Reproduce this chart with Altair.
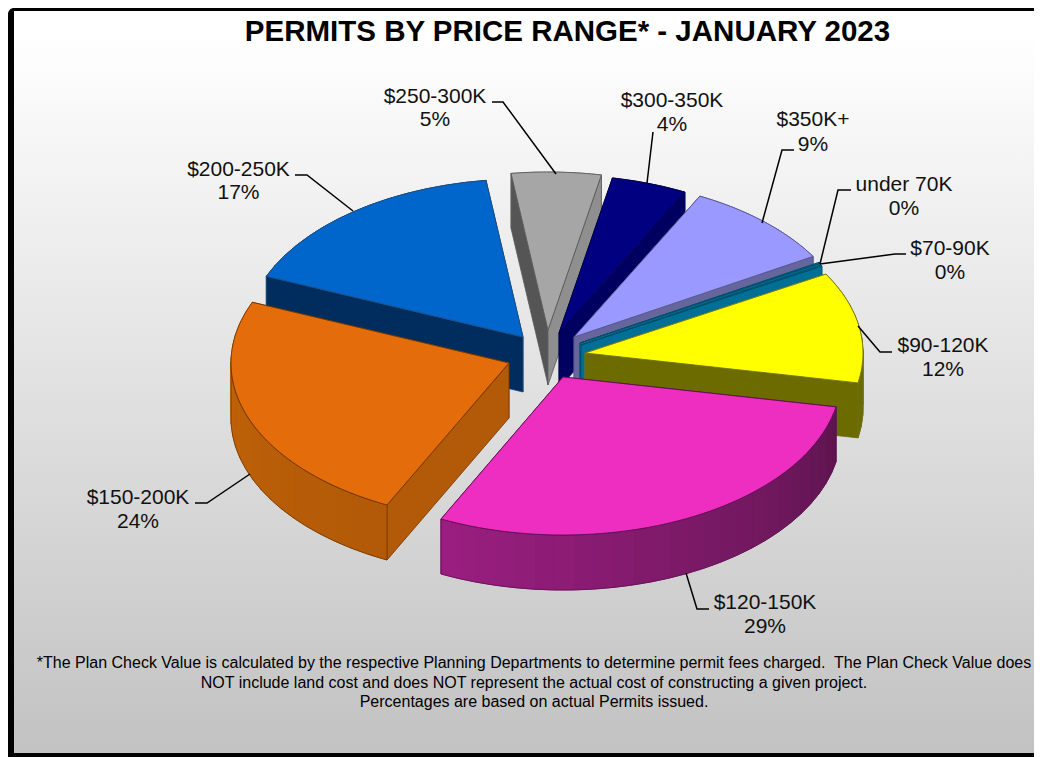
import math
import altair as alt
import pandas as pd

# ---- chart values -------------------------------------------------------
names = ["$120-150K", "$150-200K", "$200-250K", "$250-300K", "$300-350K",
         "$350K+", "under 70K", "$70-90K", "$90-120K"]
shown = ["29%", "24%", "17%", "5%", "4%", "9%", "0%", "0%", "12%"]
values = [29.2, 24.05, 16.6, 5.2, 4.4, 9.0, 0.1, 0.1, 11.35]

title_text = ["PERMITS BY PRICE RANGE* - JANUARY 2023"]
notes = [
    "*The Plan Check Value is calculated by the respective Planning Departments to determine permit fees charged.\u00a0 The Plan Check Value does",
    "NOT include land cost and does NOT represent the actual cost of constructing a given project.",
    "Percentages are based on actual Permits issued.",
]

# ---- layout and style ---------------------------------------------------
W, H = 1026, 749
OFF = 8
RX, RY, DEPTH = 278, 158, 55
START = 10.9
apex_x = [563, 509, 523, 548, 559, 574, 580, 581, 585]
apex_y = [377, 363, 337, 330, 333, 337, 343, 345, 353]
tops = ["#ee2ec0", "#e56c0a", "#0066cc", "#a6a6a6", "#000080", "#9999ff", "#006f96", "#006f96", "#ffff00"]
edges = ["#5e1050", "#6e3500", "#1c4f85", "#5a5a5a", "#000045", "#56568f", "#004f6a", "#004f6a", "#707018"]
wall_end = ["#5e154f", "#b25a08", "#002d5e", "#8f8f8f", "#000060", "#66669c", "#006f96", "#006f96", "#6b6b00"]
wall_start = ["#9a1e80", "#c46408", "#002d5e", "#8f8f8f", "#000060", "#66669c", "#006f96", "#006f96", "#6b6b00"]
face_start = ["#5e154f", "#b25a08", "#002d5e", "#555555", "#000060", "#66669c", "#006f96", "#006f96", "#6b6b00"]
face_end = ["#9a1e80", "#b25a08", "#002d5e", "#8f8f8f", "#000060", "#66669c", "#006f96", "#006f96", "#6b6b00"]
end_line = ["#5e1050", "#6e3500", "#002d5e", "#5a5a5a", "#000060", "#56568f", "#004f6a", "#004f6a", "#707018"]
draw_order = [3, 4, 5, 6, 7, 8, 2, 1, 0]

label_x = [765, 138, 238.5, 435, 672, 813, 904, 950, 943]
label_y = [609, 504, 176, 103, 107, 126, 191, 255, 352]
pct_y = [633, 528, 199, 126, 131, 151, 215, 279, 376]

leader_x = [[709, 697, 686], [195, 207, 250], [295, 307, 353], [492, 503, 556], [653, 647],
            [794, 782, 762], [851, 838, 820], [906, 895, 820], [892, 880, 858]]
leader_y = [[609, 609, 573], [503, 503, 474], [175, 175, 211], [102, 102, 174], [132, 183],
            [150, 150, 223], [190, 190, 264], [254, 254, 264], [352, 352, 326]]


def mix(a, b, f):
    pa = [int(a[i:i + 2], 16) for i in (1, 3, 5)]
    pb = [int(b[i:i + 2], 16) for i in (1, 3, 5)]
    return "#%02x%02x%02x" % tuple(round(p + (q - p) * f) for p, q in zip(pa, pb))


def rim(cx, cy, t):
    r = math.radians(t)
    return [cx + RX * math.cos(r), cy + RY * math.sin(r)]


def down(p):
    return [p[0], p[1] + DEPTH]


def poly(points, fill, stroke, sw):
    ring = [list(p) for p in points] + [list(points[0])]
    return {"type": "Feature",
            "geometry": {"type": "Polygon", "coordinates": [ring]},
            "properties": {"fill": fill, "stroke": stroke, "sw": sw}}


spans = []
cursor = START
for v in values:
    spans.append((cursor, cursor + v * 3.6))
    cursor += v * 3.6

features = []
for i in draw_order:
    t0, t1 = spans[i]
    cx, cy = apex_x[i], apex_y[i]
    n = max(1, int((t1 - t0) / 4))
    ts = [t0 + (t1 - t0) * k / n for k in range(n + 1)]
    nf = max(1, int((t1 - t0) / 1))
    fine = [t0 + (t1 - t0) * k / nf for k in range(nf + 1)]
    back, front = [], []
    for k in range(n):
        a, b = ts[k], ts[k + 1]
        col = mix(wall_end[i], wall_start[i], k / max(1, n - 1))
        pa, pb = rim(cx, cy, a), rim(cx, cy, b)
        f = poly([pa, pb, down(pb), down(pa)], col, col, 1)
        (front if math.sin(math.radians((a + b) / 2)) > 0 else back).append(f)
    features += back
    p0, p1 = rim(cx, cy, t0), rim(cx, cy, t1)
    c = [cx, cy]
    face0 = poly([c, p0, down(p0), down(c)], face_start[i], edges[i], 0.8)
    face1 = poly([c, p1, down(p1), down(c)], face_end[i], end_line[i], 0.8)
    features += [face0, face1] if p0[1] < p1[1] else [face1, face0]
    features += front
    vis = [t for t in fine if math.sin(math.radians(t)) > -0.02]
    if len(vis) > 1 and front:
        up = [rim(cx, cy, t) for t in vis]
        features.append(poly(up + [down(p) for p in reversed(up)], "transparent", edges[i], 0.8))
    features.append(poly([c] + [rim(cx, cy, t) for t in fine], tops[i], edges[i], 0.9))

# ---- chart --------------------------------------------------------------
xs = alt.Scale(domain=[OFF, OFF + W], range=[0, W])
ys = alt.Scale(domain=[OFF, OFF + H], range=[0, H])
one = pd.DataFrame({"a": [0]})

frame = alt.Chart(one).mark_rect(fill="black", cornerRadiusTopLeft=6).encode(
    x=alt.value(0), x2=alt.value(W), y=alt.value(0), y2=alt.value(H))

panel = alt.Chart(one).mark_rect(
    fill=alt.LinearGradient(
        gradient="linear", x1=0, x2=0, y1=0, y2=1,
        stops=[alt.GradientStop(color="#ffffff", offset=0.03),
               alt.GradientStop(color="#c2c2c2", offset=1)])
).encode(x=alt.value(6), x2=alt.value(W), y=alt.value(3), y2=alt.value(H - 4))

pie = alt.Chart(alt.Data(values=features)).mark_geoshape().encode(
    fill=alt.Fill("properties.fill:N", scale=None),
    stroke=alt.Stroke("properties.stroke:N", scale=None),
    strokeWidth=alt.StrokeWidth("properties.sw:Q", scale=None),
).project(type="identity", scale=1, translate=[-OFF, -OFF])

leader_rows = []
for i, (lx, ly) in enumerate(zip(leader_x, leader_y)):
    for k, (px, py) in enumerate(zip(lx, ly)):
        leader_rows.append({"name": names[i], "k": k, "x": px, "y": py})
leaders = alt.Chart(pd.DataFrame(leader_rows)).mark_line(color="black", strokeWidth=1.5).encode(
    x=alt.X("x:Q", scale=xs, axis=None),
    y=alt.Y("y:Q", scale=ys, axis=None),
    detail="name:N",
    order="k:Q",
)

text_rows = [{"t": n, "x": x, "y": y} for n, x, y in zip(names, label_x, label_y)]
text_rows += [{"t": s, "x": x, "y": y} for s, x, y in zip(shown, label_x, pct_y)]
labels = alt.Chart(pd.DataFrame(text_rows)).mark_text(
    font="Liberation Sans", fontSize=21, color="#111111", align="center", baseline="alphabetic"
).encode(x=alt.X("x:Q", scale=xs, axis=None), y=alt.Y("y:Q", scale=ys, axis=None), text="t:N")

title = alt.Chart(pd.DataFrame({"t": title_text, "x": [567.5], "y": [41]})).mark_text(
    font="Liberation Sans", fontSize=29.5, fontWeight="bold", color="black", align="center", baseline="alphabetic"
).encode(x=alt.X("x:Q", scale=xs, axis=None), y=alt.Y("y:Q", scale=ys, axis=None), text="t:N")

foot = alt.Chart(pd.DataFrame({"t": notes, "x": [534, 534, 534], "y": [668, 688, 707]})).mark_text(
    font="Liberation Sans", fontSize=16, color="black", align="center", baseline="alphabetic"
).encode(x=alt.X("x:Q", scale=xs, axis=None), y=alt.Y("y:Q", scale=ys, axis=None), text="t:N")

chart = alt.layer(frame, panel, pie, leaders, labels, title, foot).properties(
    width=W, height=H, padding=0, autosize=alt.AutoSizeParams(type="none")
).configure_view(stroke=None)

chart.save("out.html", embed_options={"renderer": "svg", "actions": False})
